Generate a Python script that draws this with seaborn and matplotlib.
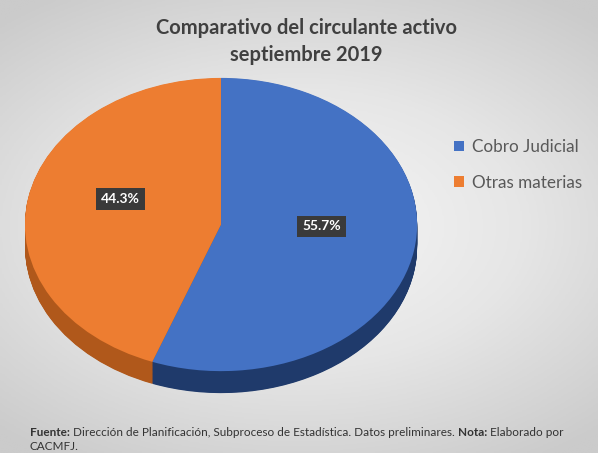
import numpy as np
import matplotlib.pyplot as plt
from matplotlib.colors import LinearSegmentedColormap
import seaborn as sns

# Data
categories = ["Cobro Judicial", "Otras materias"]
shares = [55.7, 44.3]
colors_top = ["#4472C4", "#ED7D31"]
colors_side = ["#1F3A6B", "#B0581B"]

sns.set_style("white")
plt.rcParams['font.family'] = ['Lato', 'DejaVu Sans']

fig = plt.figure(figsize=(5.98, 4.53), dpi=100)

# soft grey background
bg = fig.add_axes([0, 0, 1, 1])
yy, xx = np.mgrid[-1:1:200j, -1:1:260j]
rr = np.sqrt((xx * 0.9) ** 2 + (yy * 1.1) ** 2)
grey = LinearSegmentedColormap.from_list("bg", ["#f7f7f7", "#e6e6e6", "#cbcbcb"])
bg.imshow(rr, cmap=grey, extent=(0, 1, 0, 1), aspect='auto', vmin=0, vmax=1.35)
bg.set_xlim(0, 1)
bg.set_ylim(0, 1)
bg.axis('off')

# 3D-looking pie: stack darker pies below the top face
ax = fig.add_axes([0.0351, 0.116, 0.669, 0.7185])
depth = 0.15
for dz in np.linspace(-depth, 0, 40)[:-1]:
    ax.pie(shares, colors=colors_side, startangle=90, counterclock=False,
           center=(0, dz), wedgeprops=dict(linewidth=0))
wedges, texts, autotexts = ax.pie(
    shares, colors=colors_top, startangle=90, counterclock=False,
    autopct='%1.1f%%', pctdistance=0.52, wedgeprops=dict(linewidth=0),
    textprops=dict(color='white', fontsize=10, weight='bold'))
for t in autotexts:
    x, y = t.get_position()
    t.set_position((x, y + 0.08))
    t.set_bbox(dict(boxstyle='square,pad=0.35', fc='#3a3a3a', ec='none'))
ax.set_xlim(-1.02, 1.02)
ax.set_ylim(-1.2, 1.02)
ax.set_aspect('auto')
ax.axis('off')

# title
fig.text(0.512, 1 - 28 / 453, "Comparativo del circulante activo", ha='center', va='center',
         fontsize=14.5, weight='bold', color='#404040')
fig.text(0.512, 1 - 55 / 453, "septiembre 2019", ha='center', va='center',
         fontsize=14.5, weight='bold', color='#404040')

# legend
fig.legend(wedges, categories, loc='upper left', bbox_to_anchor=(454 / 598, 1 - 139 / 453),
           frameon=False, fontsize=12.3, labelcolor='#595959', handlelength=0.6,
           handleheight=0.6, handletextpad=0.45, labelspacing=1.15, borderaxespad=0, borderpad=0)

# footer with bold pieces
fs = 8.5
t1 = bg.text(30 / 598, 1 - 432 / 453, "Fuente:", fontsize=fs, weight='bold', color='#333333',
             va='center', ha='left')
t2 = bg.annotate(" Dirección de Planificación, Subproceso de Estadística. Datos preliminares. ",
                 xy=(1, 0), xycoords=t1, va='bottom', ha='left', fontsize=fs, color='#333333')
t3 = bg.annotate("Nota:", xy=(1, 0), xycoords=t2, va='bottom', ha='left', fontsize=fs,
                 weight='bold', color='#333333')
bg.annotate(" Elaborado por", xy=(1, 0), xycoords=t3, va='bottom', ha='left', fontsize=fs,
            color='#333333')
bg.text(30 / 598, 1 - 446 / 453, "CACMFJ.", fontsize=fs, color='#333333', va='center', ha='left')

fig.savefig("out.png", dpi=100)
